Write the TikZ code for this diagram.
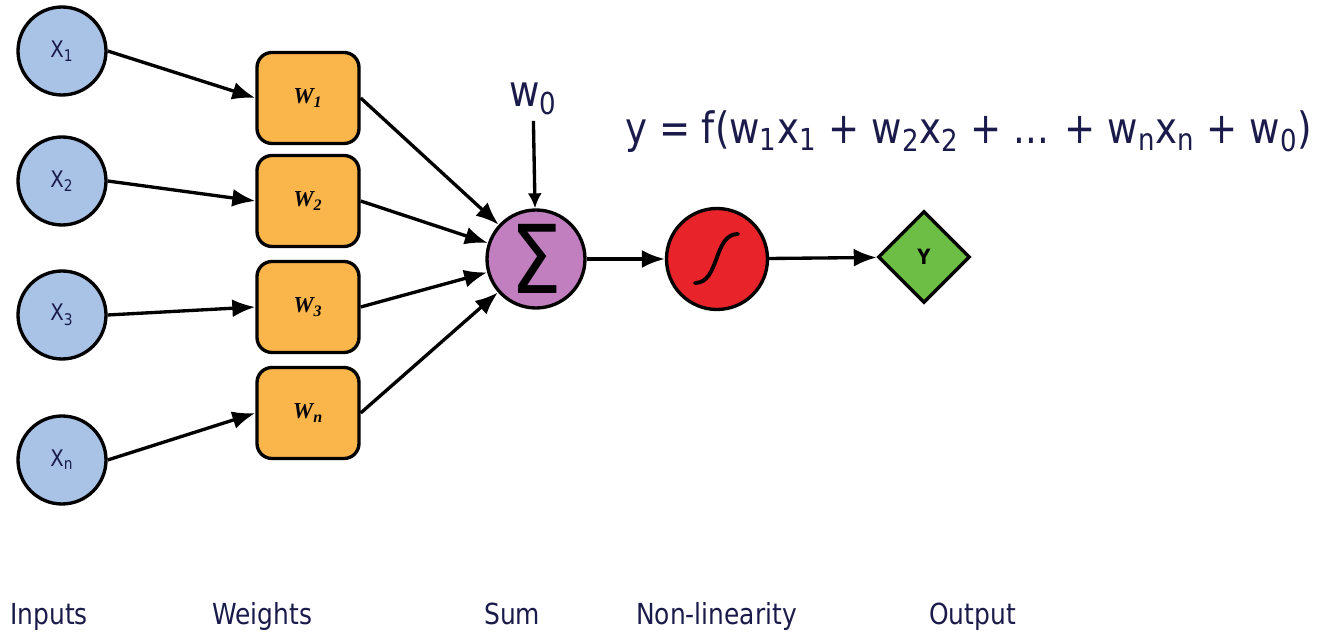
\documentclass[tikz,border=0pt]{standalone}
\usepackage{fontspec}
\setmainfont{DejaVu Sans}[FakeStretch=0.86]
\newfontfamily\weightfont{Liberation Serif}
\usetikzlibrary{arrows.meta,positioning,shapes.geometric}
\definecolor{inputblue}{HTML}{A9C3E6}
\definecolor{weightorange}{HTML}{FBB64B}
\definecolor{sumpurple}{HTML}{C17FBF}
\definecolor{sigred}{HTML}{E8242A}
\definecolor{outgreen}{HTML}{6DBE45}
\definecolor{labelnavy}{HTML}{1B1B4B}

\begin{document}
\begin{tikzpicture}[
  every node/.style={text=labelnavy},
  unit/.style={circle, draw=black, line width=1.9pt, inner sep=0pt},
  inputnode/.style={unit, fill=inputblue, minimum size=1.76cm,
    font=\fontsize{13}{15}\selectfont},
  weightbox/.style={rectangle, rounded corners=0.3cm, draw=black,
    line width=1.9pt, fill=weightorange, minimum width=2.04cm,
    minimum height=1.82cm, text=black!85!labelnavy,
    font=\weightfont\bfseries\itshape\fontsize{13}{15}\selectfont},
  link/.style={-{Latex[length=4.6mm,width=3.6mm]}, line width=1.9pt, black},
  biaslink/.style={-{Latex[length=3mm,width=2.8mm]}, line width=1.9pt, black},
  caption/.style={anchor=base west, font=\fontsize{16.5}{18}\selectfont},
  bigtext/.style={font=\fontsize{24.6}{28}\selectfont}
]
\useasboundingbox (0,0) rectangle (26.6,12.7);

\foreach \idx/\ypos in {1/11.68, 2/9.08, 3/6.40, n/3.50}
  \node[inputnode] (x\idx) at (1.24,\ypos) {X\textsubscript{\idx}};
\foreach \idx/\ypos in {1/10.74, 2/8.68, 3/6.56, n/4.44}
  \node[weightbox] (w\idx) at (6.16,\ypos) {W\textsubscript{\idx}};

\node[unit, fill=sumpurple, minimum size=1.96cm, text=black,
  font=\fontsize{54}{54}\selectfont] (sum) at (10.72,7.52) {Σ};
\node[unit, fill=sigred, minimum size=2.02cm] (sig) at (14.34,7.52) {};
\node[diamond, draw=black, line width=1.9pt, fill=outgreen, inner sep=0pt,
  minimum size=1.84cm, text=black,
  font=\bfseries\fontsize{12}{12}\selectfont] (out) at (18.48,7.56) {Y};

\coordinate (sigA) at (13.9,7.04);
\coordinate (sigB) at (14.76,8.02);
\draw[line width=2.2pt, line cap=round]
  (sigA) .. controls +(0.5,0) and +(-0.5,0) .. (sigB);

\foreach \idx in {1,2,3,n}{
  \draw[link] (x\idx.east) -- (w\idx.west);
  \draw[link] (w\idx.east) -- (sum);
}
\draw[link] (sum) -- (sig);
\draw[link] (sig) -- (out);

\node[bigtext] (bias) at (10.66,10.72) {w\textsubscript{0}};
\draw[biaslink] (bias) -- (sum);

\node[bigtext, anchor=base west] (formula) at (12.38,9.82)
  {y = f(w\textsubscript{1}x\textsubscript{1} + w\textsubscript{2}x\textsubscript{2}
   + ... + w\textsubscript{n}x\textsubscript{n} + w\textsubscript{0})};

\node[caption] (capin) at (0.08,0.2) {Inputs};
\node[caption] (capw) at (4.12,0.2) {Weights};
\node[caption] (capsum) at (9.56,0.2) {Sum};
\node[caption] (capnl) at (12.6,0.2) {Non-linearity};
\node[caption] (capout) at (18.46,0.2) {Output};
\end{tikzpicture}
\end{document}
